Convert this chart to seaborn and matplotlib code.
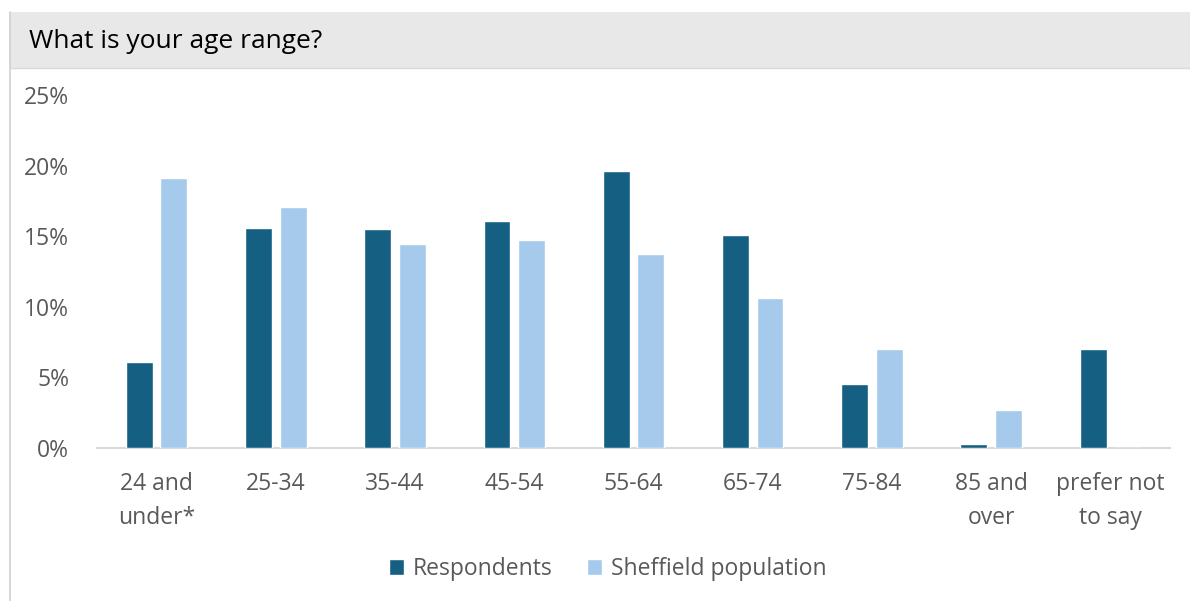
import matplotlib
matplotlib.use("Agg")
import matplotlib.pyplot as plt
import seaborn as sns
import pandas as pd
from matplotlib.patches import Rectangle
from matplotlib.lines import Line2D

categories = ["24 and\nunder*", "25-34", "35-44", "45-54", "55-64", "65-74",
              "75-84", "85 and\nover", "prefer not\nto say"]
respondents = [6.1, 15.6, 15.5, 16.1, 19.6, 15.1, 4.5, 0.25, 7.0]
sheffield = [19.1, 17.1, 14.45, 14.75, 13.75, 10.6, 7.0, 2.7, 0.0]
series_names = ["Respondents", "Sheffield population"]
y_ticks = [0, 5, 10, 15, 20, 25]

colors = ["#156082", "#A6CAEC"]
text_col = "#595959"

df = pd.DataFrame({
    "category": categories * 2,
    "value": respondents + sheffield,
    "series": [series_names[0]] * len(categories) + [series_names[1]] * len(categories),
})

sns.set_theme(style="white")
plt.rcParams["font.family"] = ["Open Sans", "DejaVu Sans"]

fig = plt.figure(figsize=(11.9, 6.01), dpi=100)
fig.patch.set_facecolor("white")

# header band and frame
fig.patches.append(Rectangle((9 / 1190, 1 - 68 / 601), 1 - 9 / 1190, 56 / 601,
                             transform=fig.transFigure, facecolor="#E8E8E8",
                             edgecolor="none", zorder=0))
fig.lines.append(Line2D([9.5 / 1190, 9.5 / 1190], [0, 1 - 12 / 601],
                        transform=fig.transFigure, color="#D0D0D0", lw=1.2))
fig.lines.append(Line2D([9.5 / 1190, 1], [1 - 68 / 601, 1 - 68 / 601],
                        transform=fig.transFigure, color="#D9D9D9", lw=1.0))
fig.text(29 / 1190, 1 - 42 / 601, "What is your age range?", fontsize=19,
         color="#000000", va="center", ha="left")

ax = fig.add_axes([97 / 1190, 1 - 448 / 601, (1170 - 97) / 1190, (448 - 95) / 601])
sns.barplot(data=df, x="category", y="value", hue="series", palette=colors,
            width=0.58, gap=0.22, ax=ax, saturation=1, legend=True)

ax.set_ylim(0, 25)
ax.set_xlim(-0.5, len(categories) - 0.5)
ax.set_yticks(y_ticks)
ax.set_yticklabels([f"{t}%" for t in y_ticks])
ax.set_xlabel("")
ax.set_ylabel("")
for s in ["top", "right", "left"]:
    ax.spines[s].set_visible(False)
ax.spines["bottom"].set_color("#D9D9D9")
ax.spines["bottom"].set_linewidth(1.5)
ax.spines["bottom"].set_zorder(0.5)
ax.tick_params(axis="y", length=0, pad=20, labelsize=16.5, labelcolor=text_col)
ax.tick_params(axis="x", length=0, pad=17, labelsize=16.5, labelcolor=text_col)
for lbl in ax.get_xticklabels():
    lbl.set_linespacing(1.55)
ax.grid(False)

handles, labels = ax.get_legend_handles_labels()
ax.legend(handles, labels, loc="center", bbox_to_anchor=(608 / 1190, 1 - 569 / 601),
          bbox_transform=fig.transFigure, ncol=2, frameon=False, fontsize=16.5,
          labelcolor=text_col, handlelength=0.65, handleheight=0.65,
          handletextpad=0.4, columnspacing=1.5)

fig.savefig("out.png", dpi=100, facecolor="white")
